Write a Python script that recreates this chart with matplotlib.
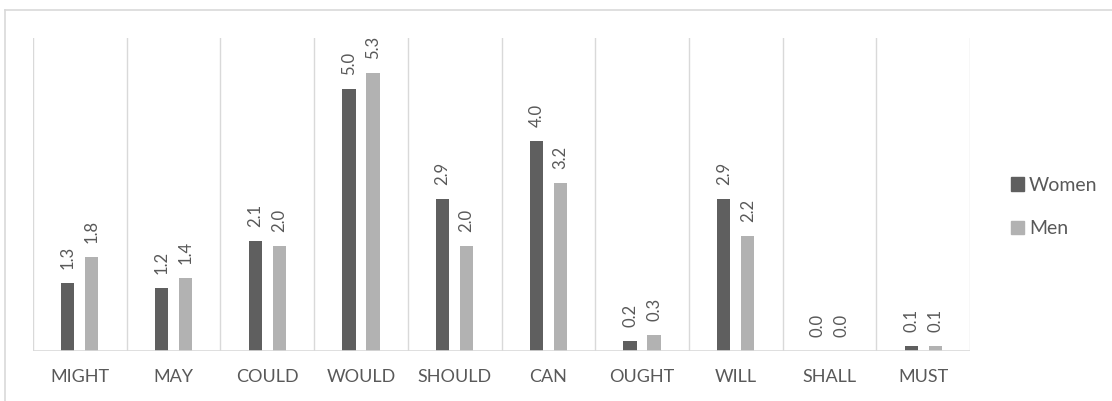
import matplotlib
matplotlib.use("Agg")
import matplotlib.pyplot as plt
import numpy as np
from matplotlib.lines import Line2D
from matplotlib.patches import Patch

categories = ["MIGHT", "MAY", "COULD", "WOULD", "SHOULD", "CAN", "OUGHT", "WILL", "SHALL", "MUST"]
women = [1.3, 1.2, 2.1, 5.0, 2.9, 4.0, 0.2, 2.9, 0.0, 0.1]
men = [1.8, 1.4, 2.0, 5.3, 2.0, 3.2, 0.3, 2.2, 0.0, 0.1]
series_names = ["Women", "Men"]

c_women = "#5f5f5f"
c_men = "#b2b2b2"
txt = "#595959"
grid = "#d9d9d9"

plt.rcParams['font.family'] = ['Lato', 'DejaVu Sans']

fig = plt.figure(figsize=(11.12, 4.01), dpi=100)
W, H = 1112, 401
ax = fig.add_axes([33 / W, 50 / H, (970 - 33) / W, (351 - 38) / H])

n = len(categories)
x = np.arange(n)
bw = 0.14
off = 0.128
b1 = ax.bar(x - off, women, bw, color=c_women, zorder=3)
b2 = ax.bar(x + off, men, bw, color=c_men, zorder=3)

for bars, vals in ((b1, women), (b2, men)):
    for r, v in zip(bars, vals):
        ax.annotate(f"{v:.1f}", (r.get_x() + r.get_width() / 2, r.get_height()),
                    xytext=(0, 10), textcoords="offset points", rotation=90,
                    ha="center", va="bottom", fontsize=12, color=txt)

ax.set_xlim(-0.5, n - 0.5)
ax.set_ylim(0, 5.97)
for b in np.arange(-0.5, n, 1.0):
    ax.axvline(b, color=grid, lw=1, zorder=1)
ax.axhline(0, color=grid, lw=1.2, zorder=4)
for s in ax.spines.values():
    s.set_visible(False)
ax.set_yticks([])
ax.set_xticks(x)
ax.set_xticklabels(categories, fontsize=13, color=txt)
ax.tick_params(axis="x", length=0, pad=13)

handles = [Patch(color=c_women), Patch(color=c_men)]
leg = fig.legend(handles, series_names, loc="center left", bbox_to_anchor=(993 / W, 1 - 207 / H),
                 frameon=False, fontsize=14, labelcolor=txt, handlelength=0.7, handleheight=0.7,
                 handletextpad=0.25, labelspacing=1.35)

# outer chart border
fig.add_artist(Line2D([5 / W, 5 / W], [0, 1 - 10 / H], transform=fig.transFigure, color=grid, lw=1.2))
fig.add_artist(Line2D([5 / W, 1], [1 - 10 / H, 1 - 10 / H], transform=fig.transFigure, color=grid, lw=1.2))

fig.savefig("out.png", dpi=100, facecolor="white")
